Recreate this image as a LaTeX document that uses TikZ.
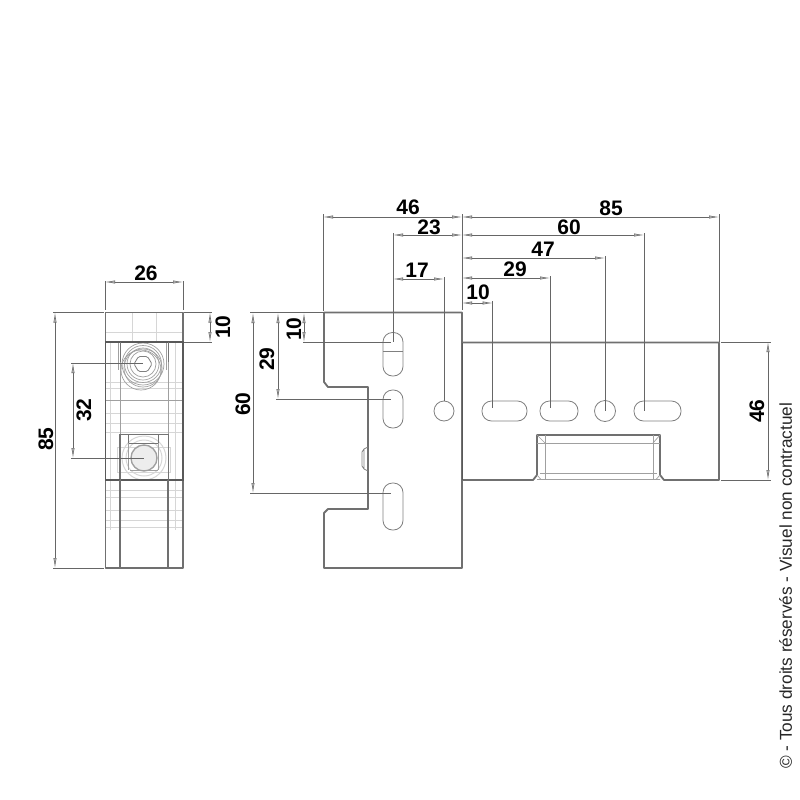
\documentclass[tikz,border=0pt]{standalone}
\usepackage{fontspec}
\setmainfont{Liberation Sans}
\usetikzlibrary{arrows.meta}
\definecolor{dimc}{HTML}{666666}
\definecolor{outl}{HTML}{707070}
\definecolor{wire}{HTML}{D6D6D6}
\definecolor{wirem}{HTML}{A0A0A0}
\definecolor{headc}{HTML}{C8C8C8}
\tikzset{
  dimline/.style={draw=dimc,line width=0.6pt,{Latex[length=10pt,width=3.2pt,fill=headc]}-{Latex[length=10pt,width=3.2pt,fill=headc]}},
  extline/.style={draw=dimc,line width=0.6pt},
  outline/.style={draw=outl,line width=1.8pt,line join=round},
  heavy/.style={draw=black!65,line width=1.9pt},
  thinout/.style={draw=black!55,line width=0.9pt},
  wireline/.style={draw=wire,line width=0.7pt},
  wiremid/.style={draw=wirem,line width=0.7pt},
  dimtext/.style={font=\fontsize{21}{21}\selectfont\bfseries,text=black,inner sep=0pt},
  dimrot/.style={dimtext,rotate=90},
  holeline/.style={draw=black!50,line width=0.8pt}
}
\newcommand{\hslot}[3]{\draw[holeline,rounded corners=9.5pt] (#1,401) rectangle (#2,421);}
\newcommand{\vslot}[2]{\draw[holeline,rounded corners=9.5pt] (383,#1) rectangle (403,#2);}
\begin{document}
\begin{tikzpicture}[x=1pt,y=-1pt]
\useasboundingbox (0,0) rectangle (800,800);
% ---- left view, wireframe
\foreach \y in {332,382,388,413,423,432,490,497,510,520,527}{\draw[wireline] (106,\y) -- (183,\y);}
\foreach \x in {110,175}{\draw[wireline] (\x,342) -- (\x,530);}
\foreach \x in {132,156}{\draw[wireline] (\x,313) -- (\x,342);}
\draw[wiremid] (106,400) -- (183,400);
\draw[wiremid] (120,342) -- (120,568);
\draw[wiremid] (168,342) -- (168,568);
\draw[wiremid] (118,342) -- (118,370);
\draw[wiremid] (166,342) -- (166,370);
% upper screw
\foreach \r in {21,18.5,16,13}{\draw[draw=wirem,line width=0.7pt] (143,364) circle (\r);}
\draw[wiremid] (141,370) circle (20);
\draw[wiremid] (143,368) circle (19);
\draw[draw=black!50,line width=0.8pt,rounded corners=1.5pt] (152,364) -- (147.5,371.5) -- (138.5,371.5) -- (134,364) -- (138.5,356.5) -- (147.5,356.5) -- cycle;
% lower screw
\draw[wireline] (117,447) rectangle (170,472);
\foreach \r in {22,18}{\draw[wireline,line width=1pt] (144,458) circle (\r);}
\fill[black!7] (144,458) circle (12);
\draw[draw=wirem,line width=1.4pt] (144,458) circle (13);
\draw[thinout] (119,434) rectangle (168,480);
\draw[thinout] (128,434) -- (128,443) -- (158,443) -- (158,434);
\draw[wiremid] (128,443) -- (128,470);
\draw[wiremid] (158,443) -- (158,470);
\draw[wiremid] (130,470) -- (158,470);
% left view, outline
\draw[outline] (105.5,312.5) rectangle (183,568);
\draw[heavy] (105.5,342) -- (105.5,480) -- (183,480) -- (183,342) -- cycle;
\draw[outline] (120,480) -- (120,568) (168,480) -- (168,568);
\draw[thinout] (120,480) -- (120,434) (168,480) -- (168,434);
\draw[thinout] (120,342) -- (120,362) (168,342) -- (168,362);
% left view, dimensions
\coordinate (a1) at (105,282); \coordinate (a2) at (183,282);
\draw[extline] (105,281) -- (105,310) (183,281) -- (183,310);
\draw[dimline] (a1) -- (a2);
\node[dimtext] (t26) at (146,273) {26};
\coordinate (b1) at (210,312.5); \coordinate (b2) at (210,342);
\draw[extline] (184,312) -- (212,312) (184,342) -- (212,342);
\draw[dimline] (b1) -- (b2);
\node[dimrot] (t10a) at (223,327) {10};
\coordinate (c1) at (55,312.5); \coordinate (c2) at (55,568);
\draw[extline] (53,312) -- (104,312) (53,568) -- (104,568);
\draw[dimline] (c1) -- (c2);
\node[dimrot] (t85a) at (46,439) {85};
\coordinate (d1) at (73,363); \coordinate (d2) at (73,458);
\draw[extline] (71,363) -- (143,363) (71,458) -- (144,458);
\draw[dimline] (d1) -- (d2);
\node[dimrot] (t32) at (84,410) {32};
% ---- main view, plate
\draw[outline] (324,312.5) -- (462,312.5) -- (462,568) -- (324,568) -- (324,513) -- (328,509) -- (368,509) -- (368,387) -- (328,387) -- (324,382) -- cycle;
\draw[outline] (462,342.5) -- (719,342.5) -- (719,480) -- (664,480) -- (660,475) -- (660,435) -- (537,435) -- (537,475) -- (533,480) -- (462,480);
\draw[heavy] (462.5,342.5) -- (462.5,480);
\draw[wiremid] (545,435) -- (545,479) (653,435) -- (653,479) (537,443) -- (660,443) (540,473) -- (657,473);
\draw[wiremid] (537,479.5) -- (660,479.5) (537,435) -- (545,443) (660,435) -- (653,443) (537,475) -- (541,479.5) (660,475) -- (656,479.5);
\draw[holeline] (368,447) -- (364,449) -- (362,452) -- (362,466) -- (364,469) -- (368,471) (364,449) -- (364,469);
% slots
\vslot{332.5}{376}
\draw[holeline] (383,351) -- (403,351);
\vslot{390}{428}
\vslot{483}{530}
\draw[holeline] (444,411) circle (10);
\hslot{482}{527}{}
\hslot{540}{578}{}
\draw[holeline] (605,411) circle (10.5);
\hslot{634}{681}{}
% top dimensions
\draw[extline] (462,214) -- (462,310);
\draw[extline] (323,214) -- (323,311);
\draw[extline] (393,233) -- (393,342);
\draw[extline] (444,277) -- (444,401);
\draw[extline] (719,214) -- (719,342);
\draw[extline] (644,233) -- (644,411);
\draw[extline] (605,256) -- (605,411);
\draw[extline] (550,276) -- (550,408);
\draw[extline] (492.7,301) -- (492.7,408);
\coordinate (e0) at (323,217); \coordinate (e1) at (462,217); \coordinate (e2) at (719,217);
\coordinate (f0) at (393,235); \coordinate (f1) at (462,235); \coordinate (f2) at (644,235);
\coordinate (g1) at (462,258); \coordinate (g2) at (605,258);
\coordinate (h1) at (462,278); \coordinate (h2) at (550,278);
\coordinate (i1) at (462,303); \coordinate (i2) at (492.7,303);
\coordinate (j1) at (393,279); \coordinate (j2) at (444,279);
\draw[dimline] (e0) -- (e1);
\draw[dimline] (e1) -- (e2);
\draw[dimline] (f0) -- (f1);
\draw[dimline] (f1) -- (f2);
\draw[dimline] (g1) -- (g2);
\draw[dimline] (h1) -- (h2);
\draw[dimline] (i1) -- (i2);
\draw[dimline] (j1) -- (j2);
\node[dimtext] (t46) at (408,207) {46};
\node[dimtext] (t23) at (429,227) {23};
\node[dimtext] (t17) at (417,270) {17};
\node[dimtext] (t10b) at (478,292) {10};
\node[dimtext] (t85b) at (611,208) {85};
\node[dimtext] (t60a) at (569,227) {60};
\node[dimtext] (t47) at (543,249) {47};
\node[dimtext] (t29a) at (515,269) {29};
% left dimensions, main view
\draw[extline] (250,312.5) -- (324,312.5);
\draw[extline] (303,342) -- (391,342);
\draw[extline] (276,399) -- (391,399);
\draw[extline] (250,493) -- (391,493);
\coordinate (k1) at (304,313); \coordinate (k2) at (304,342);
\coordinate (l1) at (278,313); \coordinate (l2) at (278,399);
\coordinate (m1) at (253,313); \coordinate (m2) at (253,493);
\draw[dimline] (k1) -- (k2);
\draw[dimline] (l1) -- (l2);
\draw[dimline] (m1) -- (m2);
\node[dimrot] (t10c) at (294,329) {10};
\node[dimrot] (t29b) at (267,359) {29};
\node[dimrot] (t60b) at (243,404) {60};
% right dimension
\draw[extline] (721,342) -- (771,342) (721,480) -- (771,480);
\coordinate (n1) at (768,342); \coordinate (n2) at (768,480);
\draw[dimline] (n1) -- (n2);
\node[dimrot] (t46b) at (757,411) {46};
% copyright
\node[rotate=90,anchor=west,inner sep=0pt,font=\fontsize{17.2}{17.2}\selectfont,text=black!85] (copy) at (785.5,769) {© - Tous droits réservés - Visuel non contractuel};
\end{tikzpicture}
\end{document}
